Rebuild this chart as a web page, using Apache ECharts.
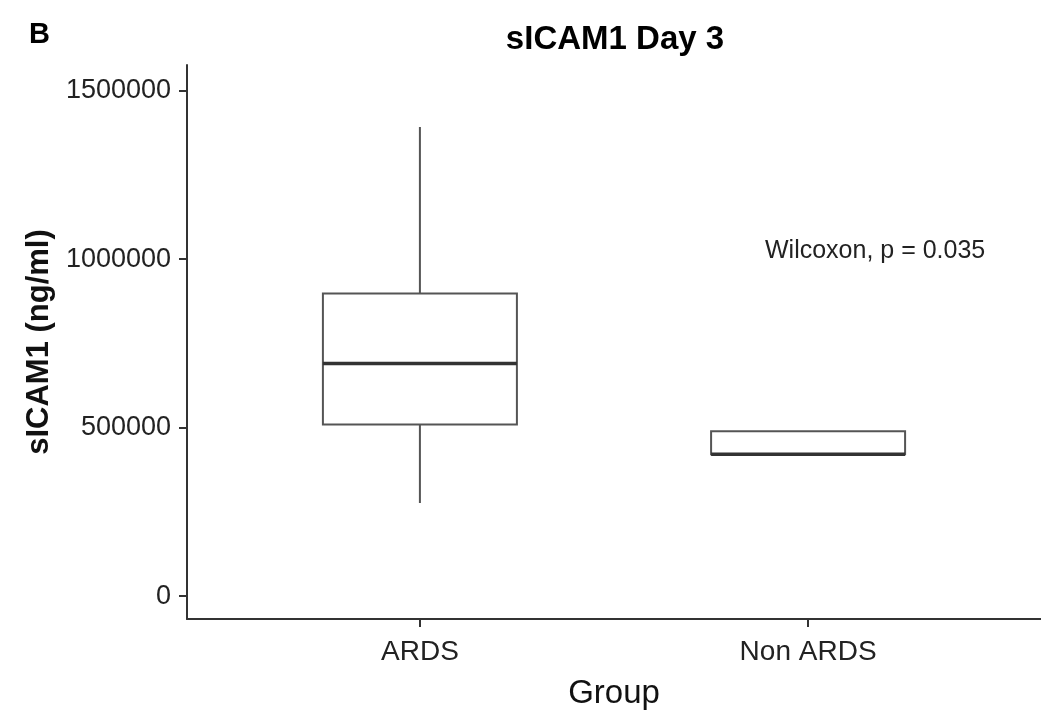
<!DOCTYPE html>
<html>
<head>
<meta charset="utf-8">
<script src="https://cdn.jsdelivr.net/npm/echarts@6/dist/echarts.min.js"></script>
<style>html,body{margin:0;padding:0;background:#fff}#c{width:1041px;height:715px}</style>
</head>
<body>
<div id="c"></div>
<script>
// ---- data ----
const categories = ['ARDS', 'Non ARDS'];
const categoryPositions = [1, 2];
const mins    = [276000, 421000];
const q1s     = [509000, 421000];
const medians = [690000, 421000];
const q3s     = [898000, 489000];
const maxs    = [1392000, 489000];
const yTicks = [0, 500000, 1000000, 1500000];
const titleText = 'sICAM1 Day 3';
const panelTag = 'B';
const yTitle = 'sICAM1 (ng/ml)';
const xTitle = 'Group';
const statLabel = 'Wilcoxon, p = 0.035';

const font = 'Liberation Sans, Arial, sans-serif';
const chart = echarts.init(document.getElementById('c'), null, {renderer: 'canvas'});

// box (hinges only; whiskers drawn separately without caps)
const boxData = categoryPositions.map((x, i) => [x, q1s[i], q1s[i], medians[i], q3s[i], q3s[i]]);
// thick median line as a zero-height box
const medData = categoryPositions.map((x, i) => [x, medians[i], medians[i], medians[i], medians[i], medians[i]]);
// whisker segments
const whiskerData = [];
categoryPositions.forEach((x, i) => {
  if (maxs[i] > q3s[i]) { whiskerData.push([x, q3s[i]], [x, maxs[i]], null); }
  if (mins[i] < q1s[i]) { whiskerData.push([x, mins[i]], [x, q1s[i]], null); }
});

const xBase = {type: 'value', min: 0.4, max: 2.6, splitLine: {show: false}};

chart.setOption({
  animation: false,
  backgroundColor: '#ffffff',
  grid: {left: 187, right: 0, top: 65, bottom: 87, containLabel: false},
  title: [
    {text: titleText, left: 610, top: 18, textAlign: 'center',
     textStyle: {fontFamily: font, fontSize: 33, fontWeight: 'bold', color: '#000'}},
    {text: panelTag, left: 24, top: 15,
     textStyle: {fontFamily: font, fontSize: 29, fontWeight: 'bold', color: '#000'}}
  ],
  xAxis: [
    Object.assign({}, xBase, {
      name: xTitle, nameLocation: 'middle', nameGap: 58,
      nameTextStyle: {fontFamily: font, fontSize: 33, color: '#111'},
      axisLine: {show: true, onZero: false, lineStyle: {color: '#333', width: 2}},
      axisTick: {show: true, length: 8, lineStyle: {color: '#333', width: 2}, customValues: categoryPositions},
      axisLabel: {show: true, fontFamily: font, fontSize: 28, color: '#222', margin: 19,
        customValues: categoryPositions,
        formatter: v => categories[categoryPositions.indexOf(Math.round(v))] || ''}
    }),
    Object.assign({}, xBase, {show: false})
  ],
  yAxis: {
    type: 'value', min: -68000, max: 1576000,
    name: yTitle, nameLocation: 'middle', nameGap: 130, nameRotate: 90,
    nameTextStyle: {fontFamily: font, fontSize: 31, fontWeight: 'bold', color: '#111'},
    axisLine: {show: true, onZero: false, lineStyle: {color: '#333', width: 2}},
    axisTick: {show: true, length: 8, lineStyle: {color: '#333', width: 2}, customValues: yTicks},
    axisLabel: {show: true, fontFamily: font, fontSize: 27, color: '#222', margin: 16,
      customValues: yTicks, formatter: v => String(v)},
    splitLine: {show: false}
  },
  series: [
    {
      type: 'line', xAxisIndex: 0, data: whiskerData, connectNulls: false,
      showSymbol: false, symbol: 'none',
      lineStyle: {color: '#555', width: 2}, emphasis: {disabled: true}, z: 1
    },
    {
      type: 'boxplot', xAxisIndex: 0, data: boxData,
      boxWidth: [194, 194],
      itemStyle: {color: '#ffffff', borderColor: '#555', borderWidth: 2},
      emphasis: {disabled: true}, z: 2
    },
    {
      type: 'boxplot', xAxisIndex: 1, data: medData,
      boxWidth: [194, 194],
      itemStyle: {color: 'rgba(0,0,0,0)', borderColor: '#333', borderWidth: 3.5},
      emphasis: {disabled: true}, z: 3
    }
  ],
  graphic: [
    {type: 'text', left: 765, top: 239,
     style: {text: statLabel, fontFamily: font, fontSize: 25, fill: '#222'}}
  ]
});
</script>
</body>
</html>
